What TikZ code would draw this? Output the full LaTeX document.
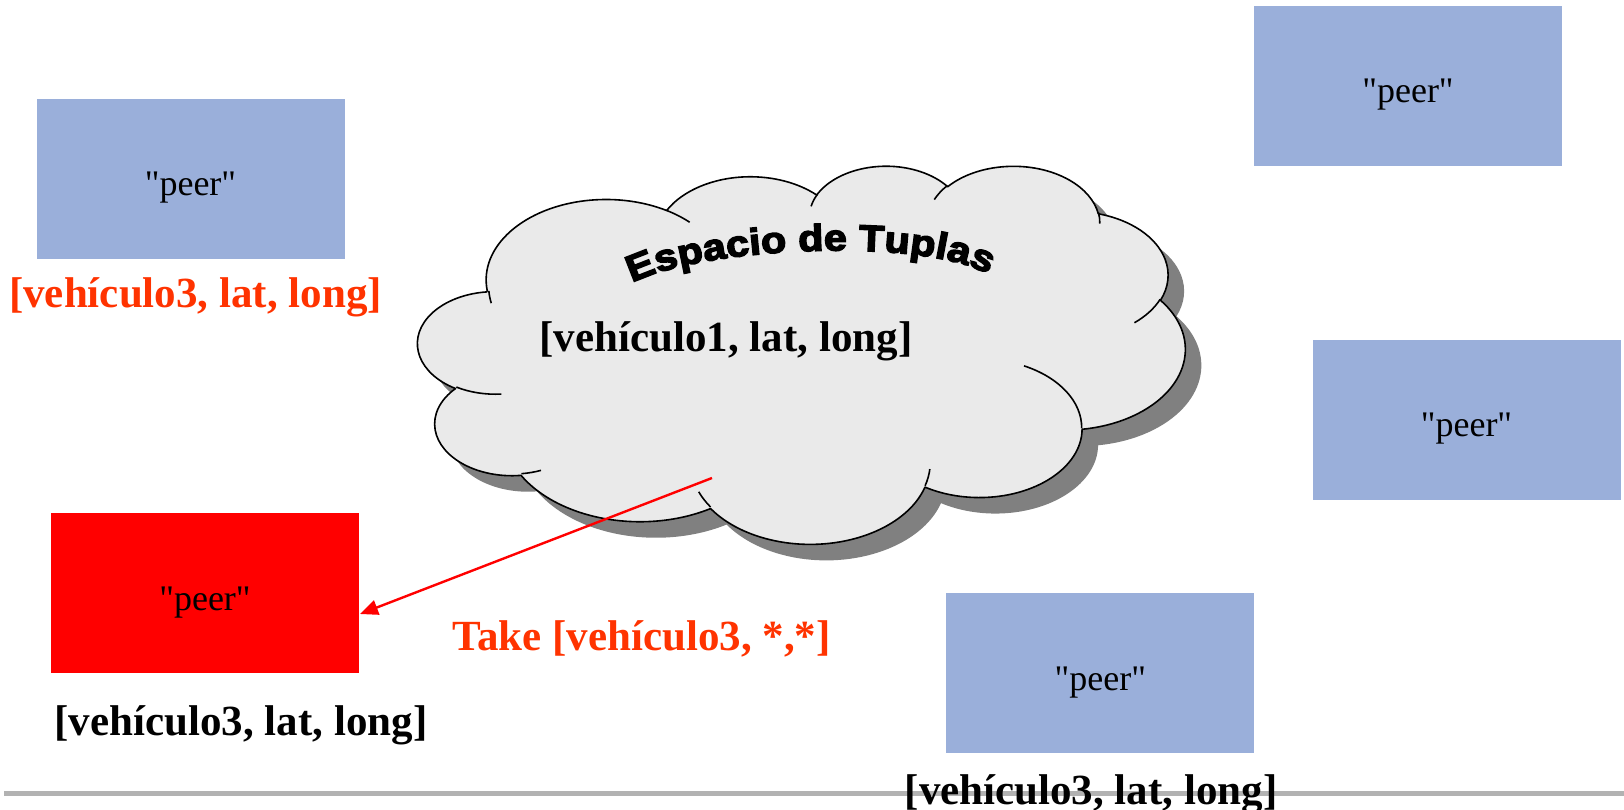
\documentclass[tikz,border=0pt]{standalone}
\usepackage{fontspec}
\setmainfont{Liberation Serif}
\newfontfamily\tuplasfont[FakeStretch=1.12, BoldFeatures={FakeBold=4}]{Liberation Sans}
\usetikzlibrary{arrows.meta,decorations.text}

\definecolor{peerblue}{HTML}{9AAFDA}
\definecolor{tuplered}{HTML}{FF3300}
\definecolor{cloudfill}{HTML}{EAEAEA}
\definecolor{cloudshade}{HTML}{808080}
\definecolor{rulegray}{HTML}{B2B2B2}

% parametric angle of an ellipse point given by its visual angle
\pgfmathdeclarefunction{cpar}{3}{%
  \begingroup
  \pgfmathparse{atan2(#1*sin(#3),#2*cos(#3))}%
  \pgfmathsmuggle\pgfmathresult
  \endgroup}
% parametric sweep for a visual start angle and visual sweep
\pgfmathdeclarefunction{cdel}{4}{%
  \begingroup
  \pgfmathparse{atan2(#1*sin(#3+#4),#2*cos(#3+#4))-atan2(#1*sin(#3),#2*cos(#3))}%
  \pgfmathparse{\pgfmathresult+360*(\pgfmathresult<0)}%
  \pgfmathsmuggle\pgfmathresult
  \endgroup}

\tikzset{
  cloud arc/.style n args={4}{start angle={cpar(#1,#2,#3)},
    delta angle={cdel(#1,#2,#3,#4)}, x radius=#1, y radius=#2},
  cloud outline/.style={insert path={(3.900,14.370)
    arc[cloud arc={6.753}{9.190}{-190.4875}{123.7805}]
    arc[cloud arc={5.333}{7.267}{-144.1024}{89.9452}]
    arc[cloud arc={4.365}{5.945}{-145.8079}{99.7230}]
    arc[cloud arc={4.857}{6.595}{-130.9861}{117.2417}]
    arc[cloud arc={5.333}{7.273}{-78.7089}{109.0269}]
    arc[cloud arc={6.775}{9.220}{-46.2673}{130.2690}]
    arc[cloud arc={5.785}{7.867}{0.6250}{114.0333}]
    arc[cloud arc={6.752}{9.215}{22.4516}{115.1726}]
    arc[cloud arc={7.720}{10.543}{66.2426}{75.7110}]
    arc[cloud arc={4.360}{5.918}{-274.9421}{146.7356}]
    arc[cloud arc={4.345}{5.945}{-246.8285}{152.5189}]
    -- cycle}},
  cloud ticks/.style={insert path={
    (4.693,26.177) arc[cloud arc={4.345}{5.945}{86.7420}{26.4295}]
    (6.928,34.899) arc[cloud arc={4.360}{5.918}{73.6105}{11.4475}]
    (16.478,39.090) arc[cloud arc={6.752}{9.215}{137.6242}{14.0811}]
    (28.827,34.751) arc[cloud arc={6.752}{9.215}{6.4533}{15.9984}]
    (34.129,22.954) arc[cloud arc={5.785}{7.867}{-70.2924}{70.9174}]
    (41.798,15.354) arc[cloud arc={5.333}{7.273}{30.3180}{27.7515}]
    (38.324,5.426) arc[cloud arc={4.857}{6.595}{-13.7443}{14.8589}]
    (29.078,3.952) arc[cloud arc={4.857}{6.595}{-149.1815}{18.1954}]
    (22.141,4.720) arc[cloud arc={4.365}{5.945}{-163.4943}{17.6864}]
    (14.000,5.192) arc[cloud arc={6.753}{9.190}{-66.7070}{12.3194}]
    (4.127,15.789) arc[cloud arc={6.753}{9.190}{163.9315}{11.8582}]
  }},
  peerbox/.style={rectangle, fill=peerblue, minimum width=308pt,
    minimum height=160pt, inner sep=0pt, text height=34pt, text depth=0pt,
    font=\fontsize{36}{40}\selectfont},
  takerbox/.style={peerbox, fill=red},
  tuplelabel/.style={anchor=base, inner sep=0pt,
    font=\bfseries\fontsize{43}{48}\selectfont},
  outline pen/.style={line width=1.6pt, line join=round},
}
\newcommand\peertext{\textquotedbl peer\textquotedbl}

\begin{document}
\begin{tikzpicture}[x=1pt, y=-1pt]
  \useasboundingbox[fill=white] (0,0) rectangle (1624,810);

  % tuple space cloud: shadow, body, inner arc ends
  \begin{scope}[shift={(434,181)}, x=17.755pt, y=-8.75pt]
    \fill[cloudshade, cloud outline];
  \end{scope}
  \begin{scope}[shift={(418,165)}, x=17.755pt, y=-8.75pt]
    \filldraw[fill=cloudfill, draw=black, outline pen, cloud outline];
    \draw[outline pen, cloud ticks];
  \end{scope}

  \path[decorate, decoration={text along path,
      text={|\tuplasfont\bfseries\fontsize{37}{40}\selectfont|Espacio de Tuplas},
      text align={fit to path}}]
    (632,283) .. controls (702,247) and (916,237) .. (986,273);

  \node[tuplelabel] (tuple1) at (726,351) {[vehículo1, lat, long]};

  % peers
  \node[peerbox] (peerA) at (190.5,179) {\peertext};
  \node[peerbox] (peerB) at (1408,86) {\peertext};
  \node[peerbox] (peerC) at (1466.5,419.5) {\peertext};
  \node[peerbox] (peerD) at (1100.4,673.2) {\peertext};
  \node[takerbox] (redpeer) at (205,593) {\peertext};

  \node[tuplelabel, text=tuplered] (tupleA) at (195.5,307) {[vehículo3, lat, long]};
  \node[tuplelabel] (tupleR) at (241,735) {[vehículo3, lat, long]};

  % separator rule at the foot
  \coordinate (ruleL) at (4,793.5);
  \coordinate (ruleR) at (1624,793.5);
  \draw[rulegray, line width=5pt] (ruleL) -- (ruleR);
  \node[tuplelabel] (tupleD) at (1091,804) {[vehículo3, lat, long]};

  % take operation
  \coordinate (takefrom) at (712,478);
  \coordinate (takeend) at (360,614);
  \draw[red, line width=2.4pt, -{Triangle[length=18pt,width=15pt]}]
    (takefrom) -- (takeend);
  \node[tuplelabel, text=tuplered] (takeop) at (641.5,650) {Take [vehículo3, *,*]};
\end{tikzpicture}
\end{document}
